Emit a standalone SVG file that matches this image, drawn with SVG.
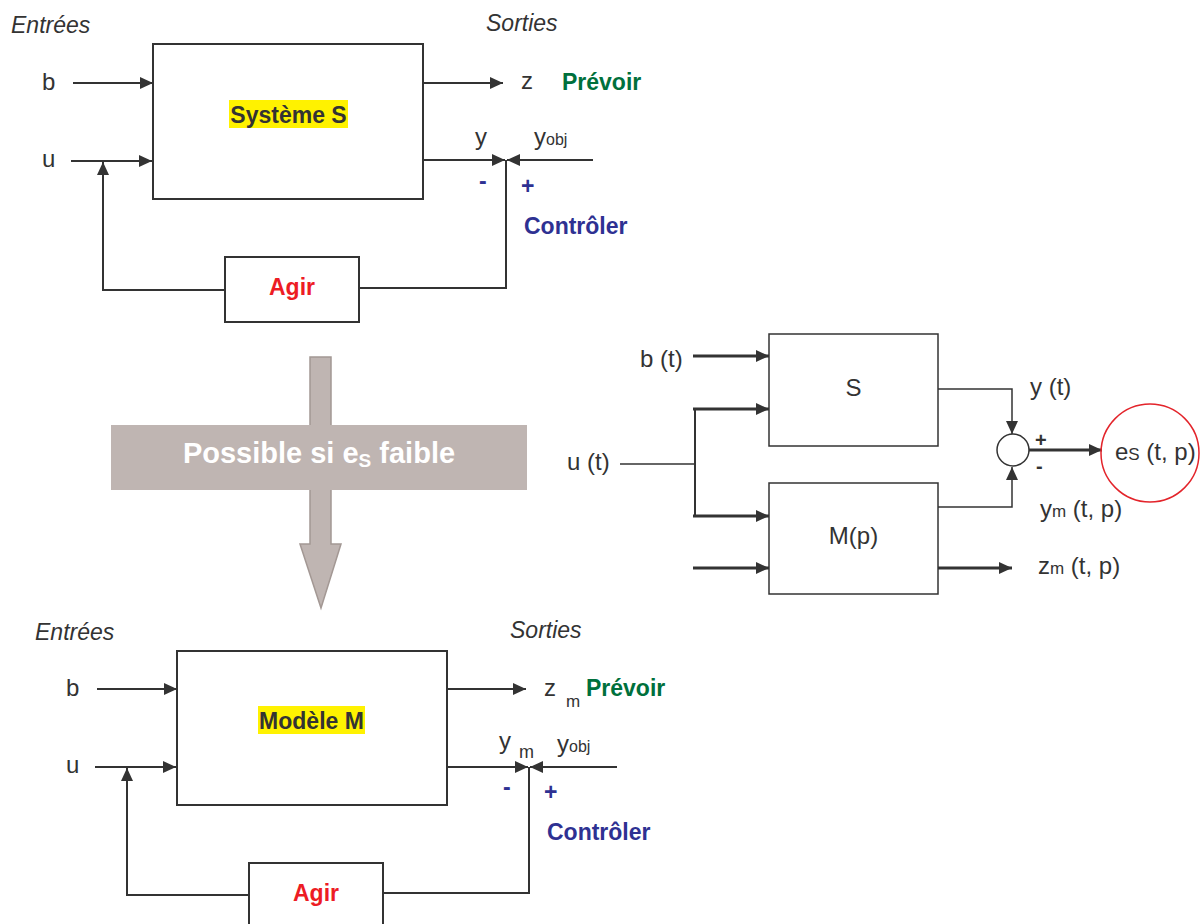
<svg xmlns="http://www.w3.org/2000/svg" width="1203" height="924" viewBox="0 0 1203 924">
<style>
text{font-family:"Liberation Sans",Arial,sans-serif;fill:#333}
.lbl{font-size:24px}
.hl{font-size:23px;font-weight:bold}
.rl{font-size:24px}
.it{font-size:23px;font-style:italic}
.green{fill:#00703c;font-weight:bold;font-size:23px}
.blue{fill:#2e3192;font-weight:bold;font-size:23px}
.red{fill:#ed1c24;font-weight:bold;font-size:23px}
.sub{font-size:16px}
.box{fill:#fff;stroke:#333;stroke-width:2}
.ln{fill:none;stroke:#333;stroke-width:2}
.thk{fill:none;stroke:#333;stroke-width:3}
.thn{fill:none;stroke:#333;stroke-width:1.5}
</style>
<defs>
<marker id="ah" viewBox="0 0 13 12" refX="13" refY="6" markerWidth="13" markerHeight="12" markerUnits="userSpaceOnUse" orient="auto"><path d="M0,0 L13,6 L0,12 z" fill="#333"/></marker>
</defs>

<g id="big-arrow">
<polygon points="310,357 331,357 331,544 341,544 321,608 300,544 310,544" fill="#bfb5b2" stroke="#a39894" stroke-width="1.5"/>
<rect x="111" y="425" width="416" height="65" fill="#bfb5b2"/>
<text x="319" y="463" text-anchor="middle" style="fill:#fff;font-weight:bold;font-size:29px">Possible si e<tspan font-size="19" dy="4">S</tspan><tspan dy="-4"> faible</tspan></text>
</g>

<g id="connectors">
<!-- top -->
<path class="ln" d="M73,83 H153" marker-end="url(#ah)"/>
<path class="ln" d="M71,161 H152" marker-end="url(#ah)"/>
<path class="ln" d="M423,83 H503" marker-end="url(#ah)"/>
<path class="ln" d="M423,160 H505" marker-end="url(#ah)"/>
<path class="ln" d="M593,160 H507" marker-end="url(#ah)"/>
<path class="ln" d="M506,160 V288 H359"/>
<path class="ln" d="M225,290 H103 V162" marker-end="url(#ah)"/>
<!-- bottom -->
<path class="ln" d="M97,689 H177" marker-end="url(#ah)"/>
<path class="ln" d="M95,767 H176" marker-end="url(#ah)"/>
<path class="ln" d="M447,689 H526" marker-end="url(#ah)"/>
<path class="ln" d="M447,767 H528" marker-end="url(#ah)"/>
<path class="ln" d="M617,767 H530" marker-end="url(#ah)"/>
<path class="ln" d="M529,767 V893 H383"/>
<path class="ln" d="M249,895 H127 V768" marker-end="url(#ah)"/>
<!-- right -->
<path class="thk" d="M693,356 H769" marker-end="url(#ah)"/>
<path class="thk" d="M693,409 H769" marker-end="url(#ah)"/>
<path class="thn" d="M620,464 H695"/>
<path class="ln" d="M695,409 V516"/>
<path class="thk" d="M693,516 H769" marker-end="url(#ah)"/>
<path class="thk" d="M693,568 H769" marker-end="url(#ah)"/>
<path class="thk" d="M938,568 H1012" marker-end="url(#ah)"/>
<path class="thn" d="M938,389 H1012 V434" marker-end="url(#ah)"/>
<path class="thn" d="M938,507 H1012 V467" marker-end="url(#ah)"/>
<path class="thk" d="M1029,450 H1102" marker-end="url(#ah)"/>
</g>

<g id="top-labels">
<text class="it" x="11" y="33">Entrées</text>
<text class="it" x="486" y="31">Sorties</text>
<text class="lbl" x="42" y="90">b</text>
<text class="lbl" x="42" y="167">u</text>
<text class="lbl" x="521" y="89">z</text>
<text class="green" x="562" y="90">Prévoir</text>
<text class="lbl" x="475" y="145">y</text>
<text class="lbl" x="534" y="145">y<tspan class="sub">obj</tspan></text>
<text class="blue" x="479" y="189">-</text>
<text class="blue" x="521" y="194">+</text>
<text class="blue" x="524" y="234">Contrôler</text>
</g>

<g id="systeme-s">
<rect class="box" x="153" y="44" width="270" height="155"/>
<rect x="229" y="100" width="119" height="28" fill="#fff200"/>
<text class="hl" x="288.5" y="123" text-anchor="middle">Système S</text>
</g>

<g id="agir-top">
<rect class="box" x="225" y="257" width="134" height="65"/>
<text class="red" x="292" y="295" text-anchor="middle">Agir</text>
</g>

<g id="bottom-labels">
<text class="it" x="35" y="640">Entrées</text>
<text class="it" x="510" y="638">Sorties</text>
<text class="lbl" x="66" y="696">b</text>
<text class="lbl" x="66" y="773">u</text>
<text class="lbl" x="544" y="696">z</text>
<text class="sub" x="566" y="707" style="font-size:17px">m</text>
<text class="green" x="586" y="696">Prévoir</text>
<text class="lbl" x="499" y="749">y</text>
<text class="sub" x="519" y="758" style="font-size:18px">m</text>
<text class="lbl" x="557" y="752">y<tspan class="sub">obj</tspan></text>
<text class="blue" x="503" y="795">-</text>
<text class="blue" x="544" y="800">+</text>
<text class="blue" x="547" y="840">Contrôler</text>
</g>

<g id="modele-m">
<rect class="box" x="177" y="651" width="270" height="154"/>
<rect x="258" y="706" width="107" height="28" fill="#fff200"/>
<text class="hl" x="311.5" y="729" text-anchor="middle">Modèle M</text>
</g>

<g id="agir-bottom">
<rect class="box" x="249" y="863" width="134" height="65"/>
<text class="red" x="316" y="901" text-anchor="middle">Agir</text>
</g>

<g id="right-labels">
<text class="rl" x="640" y="367">b (t)</text>
<text class="rl" x="567" y="470">u (t)</text>
<text class="rl" x="1030" y="395">y (t)</text>
<text x="1035" y="447" style="font-size:20px;font-weight:bold">+</text>
<text x="1036" y="473" style="font-size:20px;font-weight:bold">-</text>
<text class="rl" x="1040" y="517">y<tspan class="sub" style="font-size:17px">m</tspan> (t, p)</text>
<text class="rl" x="1038" y="574">z<tspan class="sub" style="font-size:17px">m</tspan> (t, p)</text>
</g>

<g id="s-box">
<rect class="box" x="769" y="334" width="169" height="112" style="stroke-width:1.5"/>
<text class="rl" x="853.5" y="396" text-anchor="middle">S</text>
</g>

<g id="mp-box">
<rect class="box" x="769" y="483" width="169" height="111" style="stroke-width:1.5"/>
<text class="rl" x="853.5" y="544" text-anchor="middle">M(p)</text>
</g>

<g id="sum">
<circle cx="1013" cy="450" r="16" fill="#fff" stroke="#333" stroke-width="1.5"/>
</g>

<g id="es">
<circle cx="1150" cy="453" r="49" fill="none" stroke="#e3242b" stroke-width="1.5"/>
<text class="rl" x="1115" y="460">e<tspan class="sub" style="font-size:17px">S</tspan> (t, p)</text>
</g>
</svg>
